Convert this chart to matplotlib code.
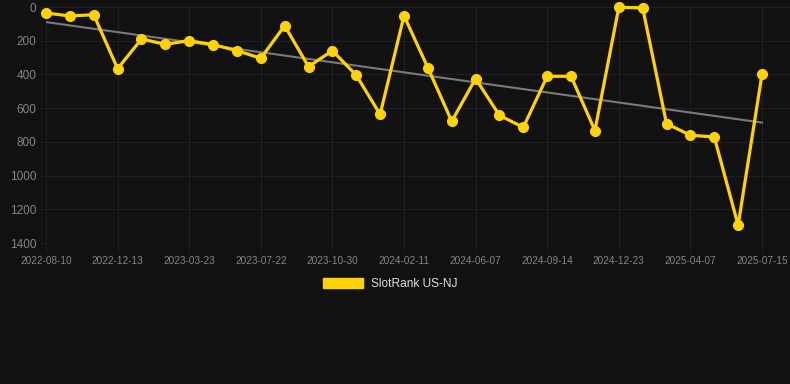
import matplotlib
matplotlib.use("Agg")
import matplotlib.pyplot as plt
import numpy as np
from matplotlib.patches import Patch

plt.rcParams['font.family'] = ['Liberation Sans', 'DejaVu Sans']

dates = ["2022-08-10", "", "", "2022-12-13", "", "", "2023-03-23", "", "", "2023-07-22",
         "", "", "2023-10-30", "", "", "2024-02-11", "", "", "2024-06-07", "", "",
         "2024-09-14", "", "", "2024-12-23", "", "", "2025-04-07", "", "", "2025-07-15"]
ranks = [36, 53, 46, 366, 190, 221, 200, 223, 259, 304, 111, 354, 259, 405, 637, 52,
         360, 678, 425, 643, 714, 411, 411, 733, 2, 5, 692, 761, 771, 1295, 399]
yticks = [0, 200, 400, 600, 800, 1000, 1200, 1400]
series_name = "SlotRank US-NJ"

BG = '#111111'
GOLD = '#FFD300'
GRID = '#202020'
W, H = 790, 384

fig = plt.figure(figsize=(W / 100, H / 100), dpi=100, facecolor=BG)
left, right, top, bottom = 46, 790, 7, 243
ax = fig.add_axes([left / W, 1 - bottom / H, (right - left) / W, (bottom - top) / H])
ax.set_facecolor(BG)

x = np.arange(len(ranks))
coef = np.polyfit(x, ranks, 1)
ax.plot(x, np.polyval(coef, x), color='#7a7a7a', lw=1.5, zorder=2)
ax.plot(x, ranks, color=GOLD, lw=2.3, marker='o', ms=7.0, mfc=GOLD, mec=GOLD,
        zorder=3, clip_on=False)

per = (762 - 46) / (len(ranks) - 1)
ax.set_xlim(0, (len(ranks) - 1) + (right - 762) / per)
ax.set_ylim(1400, 0)

tick_idx = [i for i, d in enumerate(dates) if d]
ax.set_xticks(tick_idx)
ax.set_xticklabels([dates[i] for i in tick_idx])
ax.set_yticks(yticks)
ax.set_yticklabels([str(v) for v in yticks])

ax.grid(True, color=GRID, lw=0.8)
ax.set_axisbelow(True)
for s in ax.spines.values():
    s.set_visible(False)
ax.tick_params(axis='x', colors=GRID, length=7, width=0.8, pad=2, labelsize=7.2,
               labelcolor='#858585')
ax.tick_params(axis='y', colors=GRID, length=4.3, width=0.8, pad=2.5, labelsize=8.5,
               labelcolor='#858585')

leg = fig.legend(handles=[Patch(facecolor=GOLD, edgecolor=GOLD, label=series_name)],
                 loc='center', bbox_to_anchor=(390 / W, 1 - 284 / H), frameon=False,
                 handlelength=3.4, handleheight=0.95, handletextpad=0.6,
                 prop={'size': 8.6})
for t in leg.get_texts():
    t.set_color('#dddddd')

fig.savefig('out.png', dpi=100, facecolor=BG)
